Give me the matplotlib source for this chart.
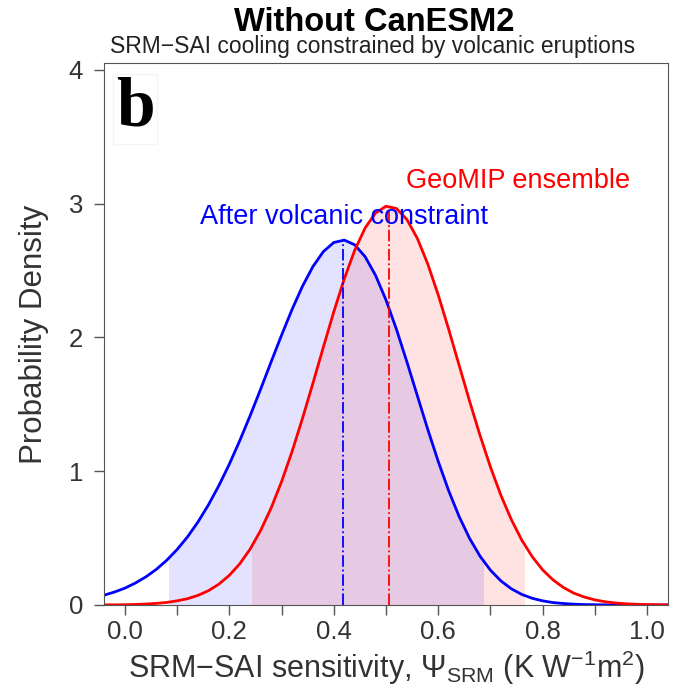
import numpy as np
import matplotlib
matplotlib.use("Agg")
import matplotlib.pyplot as plt
from matplotlib.patches import Rectangle

plt.rcParams['font.family'] = ['Liberation Sans', 'DejaVu Sans']
plt.rcParams['mathtext.fontset'] = 'custom'
plt.rcParams['mathtext.rm'] = 'Liberation Sans'
plt.rcParams['mathtext.it'] = 'Liberation Sans:italic'
plt.rcParams['mathtext.sf'] = 'Liberation Sans'

# sensitivity grid (K W-1 m2), step 0.02 from -0.04 to 1.04
psi = np.round(np.arange(-0.04, 1.0401, 0.02), 2)

# density after the volcanic constraint
dens_volc = [0.073, 0.097, 0.126, 0.164, 0.210, 0.266, 0.334, 0.415, 0.510, 0.621,
             0.749, 0.893, 1.053, 1.229, 1.417, 1.614, 1.817, 2.017, 2.208, 2.382,
             2.529, 2.641, 2.709, 2.727, 2.692, 2.603, 2.463, 2.279, 2.060, 1.817,
             1.564, 1.312, 1.073, 0.854, 0.661, 0.498, 0.365, 0.260, 0.180, 0.121,
             0.079, 0.050, 0.031, 0.018, 0.011, 0.006, 0.003, 0.002, 0.001, 0.000,
             0.000, 0.000, 0.000, 0.000, 0.000]
# GeoMIP ensemble density
dens_geo = [0.001, 0.001, 0.002, 0.004, 0.007, 0.012, 0.019, 0.031, 0.047, 0.072,
            0.107, 0.156, 0.222, 0.308, 0.419, 0.558, 0.725, 0.922, 1.146, 1.394,
            1.657, 1.927, 2.191, 2.437, 2.650, 2.818, 2.930, 2.980, 2.963, 2.881,
            2.740, 2.548, 2.317, 2.061, 1.792, 1.524, 1.268, 1.031, 0.820, 0.638,
            0.485, 0.361, 0.262, 0.187, 0.130, 0.088, 0.059, 0.038, 0.024, 0.015,
            0.009, 0.005, 0.003, 0.002, 0.001]

mode_volc, peak_volc = 0.417, 2.728
mode_geo, peak_geo = 0.505, 2.982
ci_volc = (0.084, 0.685)
ci_geo = (0.243, 0.765)

blue = '#0000ff'
red = '#ff0000'

fig = plt.figure(figsize=(6.89, 6.93), dpi=100)
ax = fig.add_axes([0.151, 0.127, 0.8185, 0.782])

# shaded 95% ranges, clipped to the interval
for dens, ci, col in [(dens_volc, ci_volc, blue), (dens_geo, ci_geo, red)]:
    poly = ax.fill_between(psi, 0, dens, color=col, alpha=0.11, lw=0)
    clip = Rectangle((ci[0], 0), ci[1] - ci[0], 10, transform=ax.transData)
    poly.set_clip_path(clip)

ax.plot(psi, dens_volc, color=blue, lw=2.0)
ax.plot(psi, dens_geo, color=red, lw=2.0)
ax.plot([mode_volc, mode_volc], [0, peak_volc], color=blue, lw=1.3, ls='-.')
ax.plot([mode_geo, mode_geo], [0, peak_geo], color=red, lw=1.3, ls='-.')

ax.text(0.42, 2.85, 'After volcanic constraint', color=blue, fontsize=19.5,
        ha='center', va='baseline')
ax.text(0.752, 3.12, 'GeoMIP ensemble', color=red, fontsize=19.5,
        ha='center', va='baseline')
ax.text(0.055, 0.884, 'b', transform=ax.transAxes, fontsize=50,
        fontweight='bold', family='Liberation Serif', ha='center', va='baseline',
        bbox=dict(facecolor='white', edgecolor='#f4f4f4', pad=2))

ax.set_xlim(-0.04, 1.04)
ax.set_ylim(0, 4.05)
ax.set_xticks(np.arange(0, 1.01, 0.1))
ax.set_xticklabels(['0.0', '', '0.2', '', '0.4', '', '0.6', '', '0.8', '', '1.0'])
ax.set_yticks([0, 1, 2, 3, 4])
for s in ax.spines.values():
    s.set_color('#555555')
ax.tick_params(colors='#555555', labelcolor='#333333', labelsize=18.5,
               length=7, width=1)
ax.tick_params(axis='y', pad=8)

ax.set_xlabel(r'SRM$-$SAI sensitivity, $\Psi_{\mathrm{SRM}}$ (K W$^{-1}$m$^{2}$)',
              fontsize=22, color='#333333', labelpad=4)
ax.set_ylabel('Probability Density', fontsize=22.5, color='#333333')
ax.yaxis.set_label_coords(-0.098, 0.5)

fig.text(0.543, 0.955, 'Without CanESM2', fontsize=23.5, fontweight='bold',
         ha='center', va='baseline')
fig.text(0.541, 0.924, 'SRM\u2212SAI cooling constrained by volcanic eruptions',
         fontsize=16.5, ha='center', va='baseline', color='#222222')

fig.savefig('out.png', dpi=100)
